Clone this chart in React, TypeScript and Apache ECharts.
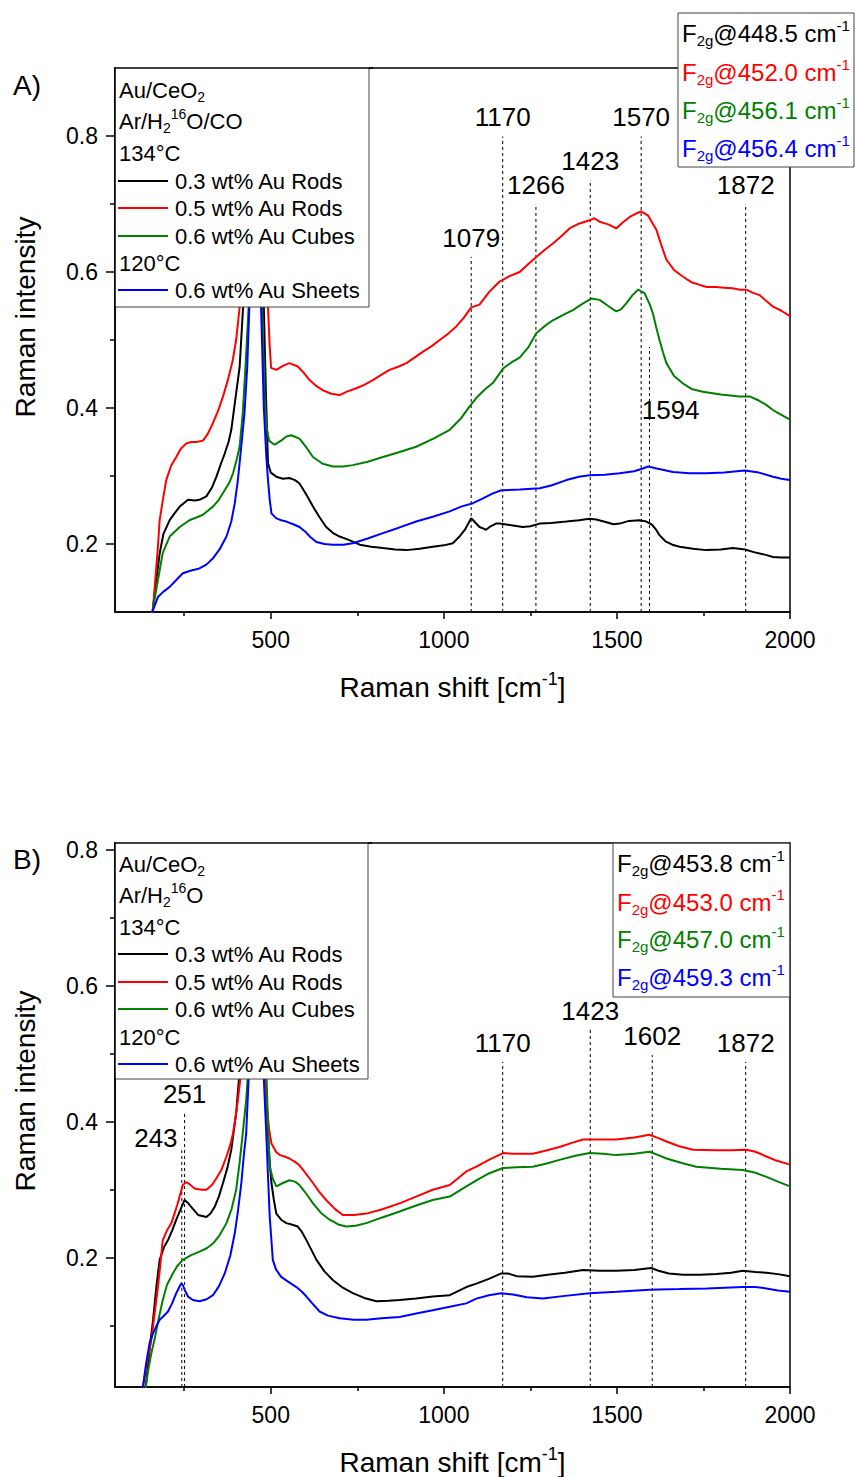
import React, { useEffect, useRef } from "react";
import * as echarts from "echarts";

const FONT = '"Liberation Sans", Arial, Helvetica, sans-serif';

// ---------- axes ----------
const xMin = 50;
const xMax = 2000;
const xMajorTicks = [500, 1000, 1500, 2000];
const xMinorTicks = [250, 750, 1250, 1750];
const yRangeA = [0.1, 0.9];
const yRangeB = [0.01, 0.81];
const yMajorTicks = [0.2, 0.4, 0.6, 0.8];
const yMinorTicksA = [0.3, 0.5, 0.7];
const yMinorTicksB = [0.1, 0.3, 0.5, 0.7];

// ---------- series meta ----------
const seriesNames = ["0.3 wt% Au Rods", "0.5 wt% Au Rods", "0.6 wt% Au Cubes", "0.6 wt% Au Sheets"];
const seriesColors = ["#000000", "#ff0000", "#008000", "#0000ff"];
const f2gA = ["448.5", "452.0", "456.1", "456.4"];
const f2gB = ["453.8", "453.0", "457.0", "459.3"];

// ---------- panel A: Ar/H2 16O/CO ----------
const aBlack: [number, number][] = [
  [150, 0.07], [159, 0.103], [170, 0.15], [179, 0.186], [190, 0.215], [208, 0.235], [222, 0.245], [237, 0.255],
  [261, 0.265], [280, 0.264], [294, 0.265], [314, 0.27], [330, 0.283], [343, 0.299], [356, 0.318], [367, 0.333],
  [378, 0.35], [386, 0.368], [393, 0.395], [400, 0.422], [410, 0.46], [420, 0.548], [432, 0.9], [448, 1.5],
  [462, 1.0], [472, 0.7], [480, 0.548], [486, 0.42], [492, 0.319], [500, 0.305], [516, 0.299], [535, 0.296],
  [554, 0.297], [570, 0.294], [583, 0.289], [600, 0.275], [622, 0.255], [640, 0.24], [660, 0.225], [680, 0.216],
  [699, 0.211], [725, 0.206], [757, 0.199], [790, 0.196], [824, 0.194], [860, 0.192], [892, 0.191], [930, 0.193],
  [968, 0.196], [1000, 0.198], [1026, 0.201], [1045, 0.211], [1062, 0.222], [1079, 0.238], [1090, 0.232],
  [1103, 0.225], [1113, 0.223], [1122, 0.221], [1135, 0.226], [1151, 0.23], [1161, 0.23], [1190, 0.228],
  [1228, 0.225], [1250, 0.226], [1277, 0.23], [1310, 0.231], [1354, 0.233], [1390, 0.235], [1421, 0.237],
  [1440, 0.236], [1470, 0.232], [1490, 0.229], [1508, 0.23], [1535, 0.234], [1565, 0.235], [1585, 0.233],
  [1600, 0.229], [1612, 0.222], [1623, 0.213], [1640, 0.204], [1660, 0.199], [1681, 0.196], [1720, 0.193],
  [1758, 0.191], [1800, 0.192], [1835, 0.194], [1870, 0.192], [1903, 0.187], [1930, 0.184], [1951, 0.181],
  [1975, 0.18], [2000, 0.18],
];
const aRed: [number, number][] = [
  [150, 0.07], [159, 0.1], [174, 0.196], [179, 0.235], [190, 0.27], [198, 0.294], [212, 0.315], [227, 0.328],
  [240, 0.34], [256, 0.348], [270, 0.35], [285, 0.35], [304, 0.352], [318, 0.362], [333, 0.378], [348, 0.396],
  [362, 0.417], [376, 0.441], [390, 0.47], [400, 0.5], [410, 0.548], [420, 0.62], [430, 0.74], [440, 0.95],
  [447, 1.3], [452, 1.5], [458, 1.3], [466, 0.95], [476, 0.75], [485, 0.62], [492, 0.548], [497, 0.49],
  [501, 0.459], [516, 0.456], [535, 0.462], [554, 0.466], [578, 0.461], [595, 0.452], [612, 0.441], [630, 0.433],
  [651, 0.426], [675, 0.421], [699, 0.419], [720, 0.424], [747, 0.429], [770, 0.434], [795, 0.441], [820, 0.449],
  [843, 0.456], [870, 0.461], [892, 0.466], [915, 0.474], [940, 0.483], [965, 0.491], [988, 0.5], [1012, 0.509],
  [1036, 0.52], [1058, 0.533], [1079, 0.548], [1103, 0.552], [1130, 0.57], [1161, 0.586], [1190, 0.594],
  [1219, 0.6], [1245, 0.612], [1267, 0.622], [1290, 0.632], [1315, 0.642], [1340, 0.653], [1363, 0.664],
  [1390, 0.671], [1421, 0.676], [1435, 0.679], [1450, 0.674], [1475, 0.67], [1498, 0.664], [1515, 0.672],
  [1537, 0.681], [1555, 0.686], [1570, 0.689], [1590, 0.683], [1605, 0.67], [1614, 0.662], [1628, 0.64],
  [1643, 0.618], [1665, 0.603], [1691, 0.593], [1715, 0.585], [1739, 0.581], [1760, 0.578], [1787, 0.578],
  [1810, 0.577], [1835, 0.576], [1855, 0.574], [1874, 0.574], [1895, 0.569], [1912, 0.566], [1930, 0.558],
  [1951, 0.549], [1975, 0.543], [2000, 0.535],
];
const aGreen: [number, number][] = [
  [150, 0.07], [159, 0.103], [174, 0.147], [188, 0.187], [208, 0.211], [237, 0.225], [265, 0.235], [285, 0.239],
  [304, 0.243], [333, 0.255], [350, 0.265], [362, 0.275], [380, 0.29], [391, 0.304], [402, 0.325], [410, 0.343],
  [419, 0.392], [428, 0.47], [436, 0.548], [445, 0.9], [452, 1.5], [460, 1.2], [467, 0.8], [475, 0.548],
  [482, 0.42], [487, 0.375], [495, 0.352], [511, 0.346], [530, 0.352], [545, 0.358], [559, 0.36], [583, 0.355],
  [600, 0.344], [622, 0.328], [650, 0.318], [680, 0.314], [710, 0.314], [737, 0.316], [780, 0.321], [824, 0.328],
  [870, 0.335], [920, 0.343], [970, 0.355], [1017, 0.368], [1050, 0.385], [1074, 0.402], [1094, 0.415],
  [1120, 0.428], [1142, 0.437], [1171, 0.458], [1195, 0.467], [1219, 0.474], [1245, 0.49], [1267, 0.51],
  [1290, 0.52], [1315, 0.529], [1345, 0.537], [1373, 0.544], [1400, 0.553], [1426, 0.561], [1450, 0.559],
  [1475, 0.55], [1498, 0.542], [1512, 0.545], [1527, 0.554], [1545, 0.566], [1561, 0.574], [1580, 0.569],
  [1595, 0.552], [1604, 0.539], [1613, 0.52], [1623, 0.5], [1633, 0.482], [1643, 0.466], [1665, 0.447],
  [1691, 0.436], [1715, 0.428], [1748, 0.424], [1800, 0.42], [1854, 0.417], [1883, 0.417], [1910, 0.411],
  [1930, 0.405], [1951, 0.397], [1975, 0.39], [2000, 0.383],
];
const aBlue: [number, number][] = [
  [152, 0.07], [160, 0.103], [174, 0.122], [190, 0.13], [208, 0.137], [227, 0.147], [246, 0.157], [270, 0.161],
  [294, 0.164], [315, 0.17], [333, 0.179], [352, 0.192], [372, 0.211], [386, 0.233], [396, 0.26], [404, 0.29],
  [410, 0.319], [418, 0.36], [424, 0.392], [432, 0.46], [438, 0.548], [448, 1.0], [456, 1.5], [463, 1.0],
  [472, 0.548], [480, 0.4], [487, 0.33], [492, 0.294], [497, 0.265], [502, 0.245], [515, 0.238], [530, 0.235],
  [545, 0.233], [565, 0.229], [583, 0.225], [600, 0.218], [615, 0.21], [632, 0.203], [655, 0.2], [680, 0.199],
  [710, 0.199], [737, 0.201], [780, 0.208], [824, 0.216], [870, 0.224], [920, 0.233], [968, 0.24], [1017, 0.248],
  [1050, 0.255], [1084, 0.26], [1113, 0.267], [1140, 0.274], [1166, 0.279], [1220, 0.28], [1277, 0.282],
  [1310, 0.286], [1354, 0.294], [1390, 0.299], [1421, 0.301], [1465, 0.302], [1508, 0.304], [1550, 0.307],
  [1575, 0.311], [1590, 0.314], [1615, 0.311], [1662, 0.306], [1710, 0.304], [1758, 0.304], [1810, 0.305],
  [1869, 0.308], [1910, 0.305], [1951, 0.299], [1975, 0.296], [2000, 0.294],
];

// ---------- panel B: Ar/H2 16O ----------
const bBlack: [number, number][] = [
  [136, 0.0], [145, 0.04], [152, 0.075], [160, 0.109], [170, 0.16], [179, 0.197], [191, 0.215], [203, 0.226],
  [215, 0.24], [227, 0.256], [240, 0.272], [251, 0.285], [260, 0.281], [270, 0.275], [290, 0.263], [314, 0.26],
  [326, 0.265], [338, 0.275], [350, 0.29], [362, 0.31], [375, 0.333], [386, 0.359], [394, 0.39], [400, 0.412],
  [408, 0.463], [420, 0.7], [435, 1.2], [450, 1.5], [462, 1.2], [475, 0.7], [485, 0.463], [492, 0.383],
  [497, 0.34], [502, 0.31], [509, 0.285], [516, 0.265], [530, 0.256], [545, 0.251], [560, 0.249], [578, 0.246],
  [590, 0.238], [603, 0.226], [617, 0.212], [632, 0.197], [655, 0.18], [680, 0.167], [708, 0.156], [737, 0.148],
  [770, 0.141], [805, 0.136], [840, 0.137], [872, 0.138], [920, 0.14], [968, 0.143], [1017, 0.145], [1065, 0.157],
  [1094, 0.162], [1130, 0.169], [1166, 0.177], [1185, 0.177], [1210, 0.173], [1257, 0.172], [1300, 0.175],
  [1350, 0.178], [1402, 0.182], [1450, 0.181], [1498, 0.181], [1550, 0.182], [1599, 0.185], [1620, 0.181],
  [1650, 0.177], [1691, 0.175], [1740, 0.175], [1787, 0.176], [1830, 0.178], [1864, 0.181], [1900, 0.179],
  [1932, 0.178], [1965, 0.176], [2000, 0.173],
];
const bRed: [number, number][] = [
  [128, 0.0], [140, 0.04], [155, 0.079], [165, 0.12], [174, 0.157], [181, 0.19], [188, 0.226], [200, 0.24],
  [213, 0.251], [230, 0.278], [246, 0.307], [255, 0.311], [261, 0.31], [280, 0.302], [300, 0.3], [314, 0.3],
  [330, 0.307], [343, 0.317], [358, 0.33], [372, 0.349], [383, 0.366], [391, 0.383], [399, 0.41], [405, 0.432],
  [412, 0.463], [425, 0.6], [440, 1.0], [450, 1.5], [460, 1.0], [474, 0.6], [483, 0.463], [487, 0.432],
  [495, 0.39], [502, 0.368], [515, 0.356], [526, 0.351], [540, 0.349], [554, 0.346], [570, 0.341], [583, 0.336],
  [600, 0.325], [622, 0.31], [640, 0.297], [660, 0.285], [685, 0.272], [708, 0.263], [740, 0.263], [776, 0.265],
  [820, 0.271], [872, 0.28], [920, 0.29], [968, 0.3], [1017, 0.307], [1065, 0.327], [1094, 0.334], [1130, 0.344],
  [1171, 0.354], [1200, 0.353], [1230, 0.353], [1257, 0.353], [1290, 0.357], [1334, 0.363], [1370, 0.369],
  [1402, 0.374], [1450, 0.374], [1498, 0.374], [1550, 0.377], [1594, 0.381], [1620, 0.376], [1643, 0.371],
  [1680, 0.364], [1720, 0.359], [1787, 0.358], [1830, 0.358], [1874, 0.359], [1900, 0.356], [1932, 0.349],
  [1960, 0.343], [2000, 0.337],
];
const bGreen: [number, number][] = [
  [136, 0.0], [146, 0.035], [155, 0.06], [164, 0.079], [176, 0.11], [188, 0.138], [200, 0.16], [217, 0.177],
  [230, 0.188], [246, 0.197], [270, 0.204], [294, 0.209], [315, 0.214], [333, 0.221], [352, 0.233], [372, 0.251],
  [387, 0.272], [400, 0.3], [410, 0.34], [419, 0.383], [429, 0.432], [433, 0.463], [445, 1.0], [455, 1.5],
  [465, 1.0], [478, 0.6], [488, 0.463], [493, 0.38], [497, 0.334], [506, 0.316], [516, 0.305], [535, 0.31],
  [554, 0.314], [570, 0.312], [583, 0.307], [600, 0.296], [622, 0.28], [645, 0.266], [670, 0.256], [695, 0.249],
  [718, 0.246], [745, 0.247], [776, 0.251], [820, 0.259], [872, 0.268], [920, 0.277], [968, 0.285], [1017, 0.29],
  [1065, 0.305], [1094, 0.314], [1130, 0.324], [1171, 0.332], [1210, 0.333], [1257, 0.334], [1300, 0.339],
  [1334, 0.344], [1380, 0.35], [1421, 0.354], [1460, 0.353], [1498, 0.351], [1550, 0.353], [1594, 0.356],
  [1620, 0.351], [1643, 0.346], [1690, 0.339], [1729, 0.334], [1800, 0.331], [1864, 0.329], [1900, 0.325],
  [1932, 0.319], [1965, 0.312], [2000, 0.305],
];
const bBlue: [number, number][] = [
  [128, 0.0], [140, 0.045], [150, 0.075], [160, 0.089], [170, 0.1], [179, 0.109], [190, 0.114], [203, 0.121],
  [215, 0.133], [227, 0.148], [236, 0.157], [241, 0.162], [246, 0.16], [252, 0.152], [261, 0.143], [275, 0.138],
  [294, 0.136], [315, 0.139], [333, 0.145], [350, 0.158], [367, 0.177], [383, 0.203], [396, 0.236], [405, 0.268],
  [415, 0.31], [422, 0.35], [429, 0.383], [436, 0.463], [448, 1.0], [458, 1.5], [468, 1.0], [480, 0.463],
  [487, 0.383], [492, 0.32], [497, 0.26], [502, 0.225], [506, 0.197], [515, 0.183], [530, 0.172], [550, 0.165],
  [574, 0.157], [590, 0.15], [603, 0.143], [620, 0.133], [641, 0.121], [665, 0.115], [699, 0.111], [740, 0.109],
  [776, 0.109], [820, 0.111], [872, 0.113], [920, 0.118], [968, 0.123], [1017, 0.128], [1065, 0.133],
  [1094, 0.14], [1130, 0.145], [1166, 0.148], [1200, 0.146], [1240, 0.142], [1286, 0.14], [1350, 0.144],
  [1421, 0.148], [1500, 0.15], [1594, 0.153], [1680, 0.154], [1760, 0.155], [1864, 0.157], [1900, 0.157],
  [1932, 0.155], [1965, 0.152], [2000, 0.15],
];

// ---------- band annotations (wavenumber, top of dashed line) ----------
const annA = [1079, 1170, 1266, 1423, 1570, 1594, 1872];
const annATop = [0.622, 0.799, 0.699, 0.735, 0.799, 0.49, 0.699];
const annB = [243, 251, 1170, 1423, 1602, 1872];
const annBTop = [0.358, 0.413, 0.488, 0.535, 0.498, 0.488];

function makeXAxes(g: number) {
  return [
    {
      type: "value", gridIndex: g, min: xMin, max: xMax, position: "bottom",
      axisLine: { show: true, onZero: false, lineStyle: { color: "#000", width: 1.5 } },
      axisTick: { show: true, customValues: xMajorTicks, length: 7, lineStyle: { color: "#000", width: 1.5 } },
      axisLabel: {
        show: true, customValues: xMajorTicks, fontSize: 23, color: "#000", fontFamily: FONT, margin: 16,
        formatter: (v: number) => String(Math.round(v)),
      },
      splitLine: { show: false },
    },
    {
      type: "value", gridIndex: g, min: xMin, max: xMax, position: "bottom",
      axisLine: { show: false, onZero: false },
      axisTick: { show: true, customValues: xMinorTicks, length: 4, lineStyle: { color: "#000", width: 1.5 } },
      axisLabel: { show: false },
      splitLine: { show: false },
    },
  ];
}

function makeYAxes(g: number, range: number[], minor: number[]) {
  return [
    {
      type: "value", gridIndex: g, min: range[0], max: range[1], position: "left",
      axisLine: { show: true, onZero: false, lineStyle: { color: "#000", width: 1.5 } },
      axisTick: { show: true, customValues: yMajorTicks, length: 9, lineStyle: { color: "#000", width: 1.5 } },
      axisLabel: {
        show: true, customValues: yMajorTicks, fontSize: 23, color: "#000", fontFamily: FONT, margin: 17,
        formatter: (v: number) => v.toFixed(1),
      },
      splitLine: { show: false },
    },
    {
      type: "value", gridIndex: g, min: range[0], max: range[1], position: "left",
      axisLine: { show: false, onZero: false },
      axisTick: { show: true, customValues: minor, length: 5, lineStyle: { color: "#000", width: 1.5 } },
      axisLabel: { show: false },
      splitLine: { show: false },
    },
  ];
}

function curveSeries(data: [number, number][], idx: number, axis: number) {
  return {
    type: "line", name: seriesNames[idx], data, xAxisIndex: axis, yAxisIndex: axis,
    symbol: "none", showSymbol: false, clip: true, smooth: false, z: 3, silent: true,
    lineStyle: { color: seriesColors[idx], width: 2 }, itemStyle: { color: seriesColors[idx] },
  };
}

function annotationSeries(xs: number[], tops: number[], bottom: number, axis: number) {
  return xs.map((x, i) => ({
    type: "line", data: [[x, bottom], [x, tops[i]]], xAxisIndex: axis, yAxisIndex: axis,
    symbol: "none", showSymbol: false, silent: true, z: 1,
    lineStyle: { color: "#000", width: 1, type: [3, 3] },
  }));
}

function annotationLabels(items: any[], axis: number) {
  return {
    type: "scatter", xAxisIndex: axis, yAxisIndex: axis, symbolSize: 0.5, silent: true, z: 4,
    itemStyle: { color: "#000", opacity: 1 },
    label: {
      show: true, position: "top", distance: 6, formatter: "{b}", fontSize: 26, color: "#000",
      fontFamily: FONT, opacity: 1, textBorderWidth: 0,
    },
    data: items,
  };
}

const richBase = (size: number, color: string, lh: number) => ({
  n: { fontSize: size, fontFamily: FONT, fill: color, lineHeight: lh },
  sub: { fontSize: Math.round(size * 0.64), fontFamily: FONT, fill: color, lineHeight: Math.round(size * 0.64), verticalAlign: "bottom" },
  sup: { fontSize: Math.round(size * 0.64), fontFamily: FONT, fill: color, lineHeight: Math.round(size * 0.64), verticalAlign: "top" },
});

function richText(x: number, y: number, text: string, size: number, color = "#000", lh = 28, extra: any = {}) {
  return {
    type: "text", x, y, z: 30, silent: true,
    style: {
      text, rich: richBase(size, color, lh), fontSize: size, fontFamily: FONT, fill: color,
      align: "left", verticalAlign: "middle", ...extra,
    },
  };
}

function legendBlock(box: { x: number; y: number; w: number; h: number }, rows: number[], gasText: string) {
  const els: any[] = [];
  els.push({ type: "rect", z: 20, silent: true, shape: { x: box.x, y: box.y - 3, width: box.w, height: box.h + 3 }, style: { fill: "#fff", stroke: null } });
  // frame parts (axis + top border) redrawn over the white box
  els.push({ type: "line", z: 22, silent: true, shape: { x1: box.x, y1: box.y - 0.75, x2: box.x, y2: box.y + box.h + 2 }, style: { stroke: "#000", lineWidth: 1.5 } });
  els.push({ type: "line", z: 22, silent: true, shape: { x1: box.x - 0.75, y1: box.y, x2: box.x + box.w + 4, y2: box.y }, style: { stroke: "#000", lineWidth: 1.5 } });
  els.push({ type: "line", z: 21, silent: true, shape: { x1: box.x + box.w, y1: box.y, x2: box.x + box.w, y2: box.y + box.h }, style: { stroke: "#444", lineWidth: 1 } });
  els.push({ type: "line", z: 21, silent: true, shape: { x1: box.x, y1: box.y + box.h, x2: box.x + box.w, y2: box.y + box.h }, style: { stroke: "#444", lineWidth: 1 } });
  const tx = box.x + 4;
  els.push(richText(tx, rows[0], "{n|Au/CeO}{sub|2}", 22, "#000", 28));
  els.push(richText(tx, rows[1], gasText, 22, "#000", 28));
  els.push(richText(tx, rows[2], "{n|134°C}", 22));
  const itemRows = [rows[3], rows[4], rows[5], rows[7]];
  els.push(richText(tx, rows[6], "{n|120°C}", 22));
  itemRows.forEach((ry, i) => {
    els.push({ type: "line", z: 21, silent: true, shape: { x1: box.x + 3, y1: ry, x2: box.x + 53, y2: ry }, style: { stroke: seriesColors[i], lineWidth: 2 } });
    els.push(richText(box.x + 60, ry, "{n|" + seriesNames[i] + "}", 22));
  });
  return els;
}

function f2gBlock(box: { x: number; y: number; w: number; h: number }, rows: number[], vals: string[], strokeAll: boolean) {
  const els: any[] = [];
  if (strokeAll) {
    els.push({ type: "rect", z: 20, silent: true, shape: { x: box.x, y: box.y, width: box.w, height: box.h }, style: { fill: "#fff", stroke: "#444", lineWidth: 1 } });
  } else {
    els.push({ type: "rect", z: 20, silent: true, shape: { x: box.x, y: box.y + 0.8, width: box.w - 0.8, height: box.h - 0.8 }, style: { fill: "#fff", stroke: null } });
    els.push({ type: "line", z: 21, silent: true, shape: { x1: box.x, y1: box.y, x2: box.x, y2: box.y + box.h }, style: { stroke: "#444", lineWidth: 1 } });
    els.push({ type: "line", z: 21, silent: true, shape: { x1: box.x, y1: box.y + box.h, x2: box.x + box.w, y2: box.y + box.h }, style: { stroke: "#444", lineWidth: 1 } });
  }
  vals.forEach((v, i) => {
    els.push(richText(box.x + 4, rows[i], "{n|F}{sub|2g}{n|@" + v + " cm}{sup|-1}", 24, seriesColors[i], 30));
  });
  return els;
}

function axisTitles(xCenter: number, xTitleY: number, yTitleX: number, yTitleY: number, panel: string, panelY: number) {
  return [
    {
      type: "text", x: xCenter, y: xTitleY, z: 30, silent: true,
      style: {
        text: "{n|Raman shift [cm}{sup|-1}{n|]}", rich: richBase(28, "#000", 34), fontSize: 28, fontFamily: FONT,
        fill: "#000", align: "center", verticalAlign: "middle",
      },
    },
    {
      type: "text", x: yTitleX, y: yTitleY, rotation: Math.PI / 2, z: 30, silent: true,
      style: { text: "Raman intensity", fontSize: 28, fontFamily: FONT, fill: "#000", align: "center", verticalAlign: "middle" },
    },
    {
      type: "text", x: 13, y: panelY, z: 30, silent: true,
      style: { text: panel, fontSize: 28, fontFamily: FONT, fill: "#000", align: "left", verticalAlign: "middle" },
    },
  ];
}

export default function App() {
  const ref = useRef<HTMLDivElement>(null);
  useEffect(() => {
    if (!ref.current) return;
    const chart = echarts.init(ref.current, null, { renderer: "svg" });

    const labelsA = annA.map((x, i) => {
      if (x === 1594) {
        return { name: String(x), value: [x, 0.397], label: { position: "right", distance: 0, offset: [-8, 0] } };
      }
      return { name: String(x), value: [x, annATop[i]] };
    });
    const labelsB = annB.map((x, i) => {
      if (x === 243) {
        return { name: String(x), value: [x, annBTop[i]], label: { position: "left", distance: 4, offset: [0, -12] } };
      }
      return { name: String(x), value: [x, annBTop[i]] };
    });

    const graphics: any[] = [
      ...legendBlock({ x: 115, y: 68, w: 254, h: 239 }, [90, 121, 153, 181, 208, 236, 263, 290], "{n|Ar/H}{sub|2}{sup|16}{n|O/CO}"),
      ...legendBlock({ x: 115, y: 843, w: 253, h: 236 }, [864, 895, 927, 954, 982, 1009, 1037, 1064], "{n|Ar/H}{sub|2}{sup|16}{n|O}"),
      ...f2gBlock({ x: 678, y: 13, w: 176, h: 154 }, [33, 72, 110, 148], f2gA, true),
      ...f2gBlock({ x: 613, y: 843, w: 177, h: 154 }, [863, 902, 939, 977], f2gB, false),
      ...axisTitles(452.5, 687, 25, 317, "A)", 85),
      ...axisTitles(452.5, 1462, 25, 1091, "B)", 859),
    ];

    const option: any = {
      animation: false,
      backgroundColor: "#fff",
      textStyle: { fontFamily: FONT },
      grid: [
        { left: 115, top: 68, width: 675, height: 544, show: true, borderColor: "#000", borderWidth: 1.5, backgroundColor: "transparent" },
        { left: 115, top: 843, width: 675, height: 544, show: true, borderColor: "#000", borderWidth: 1.5, backgroundColor: "transparent" },
      ],
      xAxis: [...makeXAxes(0), ...makeXAxes(1)],
      yAxis: [...makeYAxes(0, yRangeA, yMinorTicksA), ...makeYAxes(1, yRangeB, yMinorTicksB)],
      series: [
        ...annotationSeries(annA, annATop, yRangeA[0], 0),
        ...annotationSeries(annB, annBTop, yRangeB[0], 2),
        annotationLabels(labelsA, 0),
        annotationLabels(labelsB, 2),
        curveSeries(aBlack, 0, 0),
        curveSeries(aRed, 1, 0),
        curveSeries(aGreen, 2, 0),
        curveSeries(aBlue, 3, 0),
        curveSeries(bBlack, 0, 2),
        curveSeries(bRed, 1, 2),
        curveSeries(bGreen, 2, 2),
        curveSeries(bBlue, 3, 2),
      ],
      graphic: { elements: graphics },
    };
    chart.setOption(option);
    return () => chart.dispose();
  }, []);

  return <div ref={ref} style={{ position: "absolute", left: 0, top: 0, width: 855, height: 1477, background: "#fff" }} />;
}
